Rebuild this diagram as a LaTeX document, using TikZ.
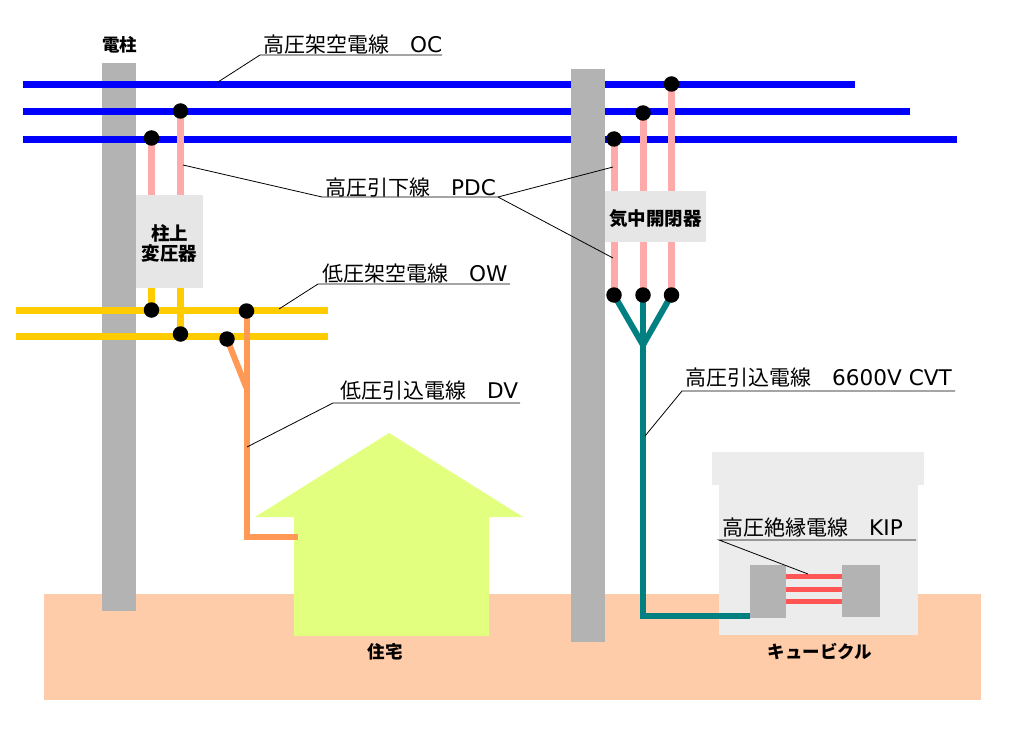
\documentclass[tikz,border=0pt]{standalone}
\usepackage{fontspec}
\setmainfont{DejaVu Sans}
\newfontfamily\jpfont{Noto Sans CJK JP}
\pgfdeclarelayer{back}
\pgfsetlayers{back,main}
\definecolor{polegray}{HTML}{B3B3B3}
\definecolor{boxgray}{HTML}{E6E6E6}
\definecolor{cubgray}{HTML}{ECECEC}
\definecolor{groundc}{HTML}{FFCCAA}
\definecolor{housec}{HTML}{E3FF80}
\definecolor{pinkc}{HTML}{FFAAAA}
\definecolor{yellowc}{HTML}{FFCC00}
\definecolor{orangec}{HTML}{FF9955}
\definecolor{tealc}{HTML}{008080}
\definecolor{redc}{HTML}{FF5555}
\tikzset{
  joint/.style={circle, fill=black, inner sep=0pt, minimum size=15.5pt},
  block/.style={inner sep=0pt, yshift=-1.8pt, font=\fontsize{18.5}{19.5}\selectfont\jpfont\bfseries, align=center},
  lbl/.style={inner sep=0pt, anchor=base west, font=\fontsize{21.6}{21}\selectfont},
  caption/.style={inner sep=0pt, font=\fontsize{17.5}{18}\selectfont\jpfont\bfseries},
  hv/.style={blue, line width=7pt},
  pdcw/.style={pinkc, line width=7pt},
  lv/.style={yellowc, line width=6.5pt},
  dvw/.style={orangec, line width=6pt},
  cvtw/.style={tealc, line width=6pt},
  kipw/.style={redc, line width=5pt},
  leader/.style={black, line width=0.8pt}
}
\newcommand{\jp}[1]{{\fontsize{21}{21}\selectfont\jpfont #1　}}
\begin{document}
\begin{tikzpicture}[x=1pt, y=-1pt]
  \useasboundingbox (0,0) rectangle (1024,730);
  % joints
  \node[joint] (hv1) at (151.5,138) {};
  \node[joint] (hv2) at (180.5,111) {};
  \node[joint] (lv1) at (151.5,310) {};
  \node[joint] (lv2) at (180.5,334) {};
  \node[joint] (dv1) at (246.5,311) {};
  \node[joint] (dv2) at (227,339) {};
  \node[joint] (sa) at (614,139) {};
  \node[joint] (sb) at (643,113) {};
  \node[joint] (sc) at (671.5,84) {};
  \node[joint] (ta) at (614,295) {};
  \node[joint] (tb) at (643,295) {};
  \node[joint] (tc) at (671.5,295) {};
  % free ends of wires and leaders
  \coordinate (tee) at (643,345);
  \coordinate (dvtee) at (246.5,388);
  \coordinate (dvbend) at (246.5,537);
  \coordinate (dvend) at (298,537);
  \coordinate (cvtbend) at (643,616);
  \coordinate (cvtend) at (750,616);
  \coordinate (oct) at (218,82);
  \coordinate (pdct1) at (183,165);
  \coordinate (pdct2) at (613,167);
  \coordinate (pdct3) at (613,258);
  \coordinate (owt) at (279,309);
  \coordinate (dvt) at (247,447);
  \coordinate (cvtt) at (645,436);
  \coordinate (kipt) at (808,574);

  \begin{pgfonlayer}{back}
    \fill[groundc] (44,594) rectangle (981,700);
    \fill[housec] (389,433) -- (523,517) -- (489,517) -- (489,636) -- (294,636) -- (294,517) -- (255,517) -- cycle;
    \node[fill=polegray, inner sep=0pt, minimum width=34pt, minimum height=548pt] (pole1) at (119,337) {};
    % overhead lines
    \draw[hv] (23,84.5) -- (855,84.5);
    \draw[hv] (23,111.5) -- (910,111.5);
    \draw[hv] (23,139.5) -- (957,139.5);
    \node[fill=polegray, inner sep=0pt, minimum width=34pt, minimum height=573pt] (pole2) at (588,355.5) {};
    \draw[lv] (16,310.5) -- (328,310.5);
    \draw[lv] (16,336.5) -- (328,336.5);
    % transformer
    \draw[pdcw] (hv1.center) -- (hv1.center |- 0,195);
    \draw[pdcw] (hv2.center) -- (hv2.center |- 0,195);
    \draw[lv] (lv1.center) -- (lv1.center |- 0,288);
    \draw[lv] (lv2.center) -- (lv2.center |- 0,288);
    % service wire
    \draw[dvw, line join=miter] (dv1.center) -- (dvbend) -- (dvend);
    \draw[dvw] (dv2.center) -- (dvtee);
    % switch
    \draw[pdcw] (sa.center) -- (ta.center);
    \draw[pdcw] (sb.center) -- (tb.center);
    \draw[pdcw] (sc.center) -- (tc.center);
    \draw[cvtw, line join=miter] (ta.center) -- (tee) -- (tc.center);
    % cubicle
    \fill[cubgray] (712,452) rectangle (924,485);
    \fill[cubgray] (719,485) rectangle (918,635);
    \draw[cvtw, line join=miter] (tb.center) -- (cvtbend) -- (cvtend);
    \draw[kipw] (785,576) -- (842,576);
    \draw[kipw] (785,589) -- (842,589);
    \draw[kipw] (785,601) -- (842,601);
    \node[fill=polegray, inner sep=0pt, minimum width=36pt, minimum height=53pt] (blk1) at (767.5,591.5) {};
    \node[fill=polegray, inner sep=0pt, minimum width=38pt, minimum height=52pt] (blk2) at (861,591) {};
  \end{pgfonlayer}

  % boxes on top of the poles
  \node[fill=boxgray, inner sep=0pt, minimum width=67pt, minimum height=93pt,
    label={[block]center:柱上\\変圧器}] (trans) at (169.5,241.5) {};
  \node[fill=boxgray, inner sep=0pt, minimum width=101pt, minimum height=51pt,
    label={[block]center:気中開閉器}] (switch) at (655.5,216.5) {};

  % names
  \node[caption] (polename) at (119.5,45) {電柱};
  \node[caption] (housename) at (385,652) {住宅};
  \node[caption] (cubname) at (820,652) {キュービクル};

  % labels and leaders
  \node[lbl] (oc) at (263,53) {\jp{高圧架空電線}OC};
  \draw[leader] (oct) -- (260,55) -- (442,55);
  \node[lbl] (pdc) at (325,195) {\jp{高圧引下線}PDC};
  \draw[leader] (pdct1) -- (322,197) -- (498,197) -- (pdct3);
  \draw[leader] (498,197) -- (pdct2);
  \node[lbl] (ow) at (322,281) {\jp{低圧架空電線}OW};
  \draw[leader] (owt) -- (318,284) -- (510,284);
  \node[lbl] (dv) at (340,398) {\jp{低圧引込電線}DV};
  \draw[leader] (dvt) -- (333,403) -- (520,403);
  \node[lbl] (cvt) at (685,385) {\jp{高圧引込電線}6600V CVT};
  \draw[leader] (cvtt) -- (682,391) -- (955,391);
  \node[lbl] (kip) at (722,535) {\jp{高圧絶縁電線}KIP};
  \draw[leader] (kipt) -- (719,540) -- (916,540);
\end{tikzpicture}
\end{document}
